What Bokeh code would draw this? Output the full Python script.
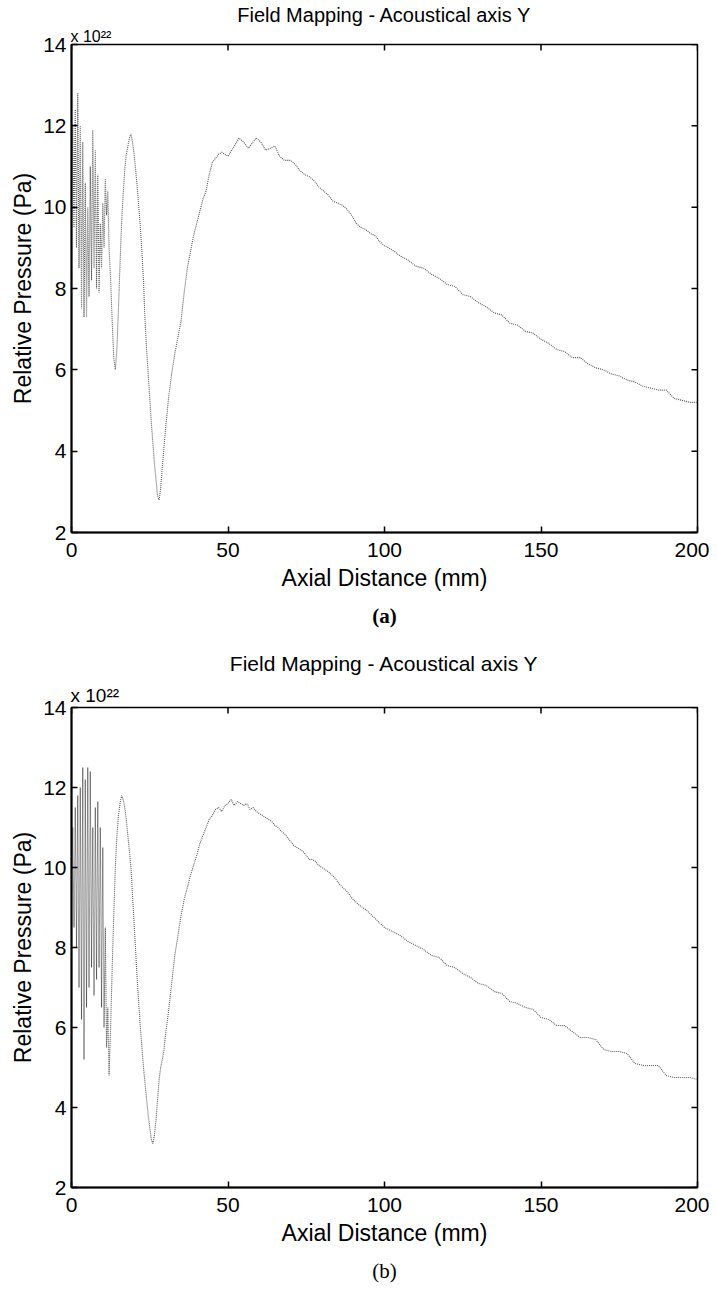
import math
from bokeh.plotting import figure
from bokeh.models import Range1d, Title, FixedTicker
from bokeh.layouts import column
from bokeh.embed import file_html
from bokeh.resources import INLINE

TITLE = "Field Mapping - Acoustical axis Y"
X_LABEL = "Axial Distance (mm)"
Y_LABEL = "Relative Pressure (Pa)"
SCALE_NOTE = "x 10\u00b2\u00b2"
X_TICKS = [0, 50, 100, 150, 200]
Y_TICKS = [2, 4, 6, 8, 10, 12, 14]
X_MIN, X_MAX = 0, 200
Y_MIN, Y_MAX = 2, 14

# ---------------- panel (a) ----------------
a_x = [0, 0.4, 0.8, 1.2, 1.6, 2.0, 2.4, 2.8, 3.2, 3.6, 4.0, 4.4, 4.8, 5.2, 5.6, 6.0,
       6.4, 6.8, 7.2, 7.6, 8.0, 8.4, 8.8, 9.2, 9.6, 10.0, 10.4, 10.8, 11.2, 11.6, 12.0,
       12.5, 13.0, 13.5, 14.0, 14.5, 15.0, 15.5, 16.0, 16.5, 17.0, 17.5, 18.0, 18.5,
       19.0, 19.5, 20.0, 20.5, 21.0, 21.5, 22.0, 22.5, 23.0, 23.5, 24.0, 24.5, 25.0,
       25.5, 26.0, 26.5, 27.0, 27.5, 28.0, 28.5, 29.0,
       30, 31, 32, 33, 34, 35, 36, 37, 38, 39, 40, 41, 42, 43, 44, 45, 46, 47, 48,
       50, 52, 53.5, 55, 56.5, 58, 59, 60.5, 62, 63.5, 65, 66.5, 68, 70, 71.5, 73,
       74.5, 76, 77.5, 79, 80.5, 82, 83.5, 85, 86.5, 88, 89.5, 91, 92.5, 94, 95.5, 97, 98.5,
       100, 102.5, 105, 107.5, 110, 112.5, 115, 117.5, 120, 122.5, 125, 127.5, 130,
       132.5, 135, 137.5, 140, 142.5, 145, 147.5, 150, 152.5, 155, 157.5, 160, 162.5,
       165, 167.5, 170, 172.5, 175, 177.5, 180, 182.5, 185, 187.5, 190, 192.5, 195,
       197.5, 200]
a_y = [9.2, 12.0, 9.5, 12.4, 9.0, 12.8, 8.5, 12.0, 7.5, 11.6, 7.3, 10.6, 7.3, 10.0, 7.8, 11.0,
       8.2, 11.9, 8.5, 11.4, 8.0, 10.8, 7.9, 9.6, 8.5, 10.1, 9.0, 10.7, 9.8, 10.4, 9.0,
       8.2, 7.2, 6.3, 6.0, 6.5, 7.5, 8.6, 9.6, 10.3, 10.9, 11.3, 11.5, 11.7,
       11.8, 11.6, 11.3, 10.9, 10.5, 10.0, 9.5, 8.9, 8.2, 7.2, 6.5, 5.9, 5.3,
       4.7, 4.2, 3.7, 3.3, 2.9, 2.8, 3.1, 3.6,
       4.5, 5.3, 5.9, 6.4, 6.8, 7.2, 7.9, 8.5, 8.9, 9.3, 9.6, 9.9, 10.2, 10.4, 10.8, 11.1, 11.2, 11.3, 11.35,
       11.25, 11.5, 11.7, 11.6, 11.45, 11.6, 11.7, 11.6, 11.4, 11.45, 11.5, 11.25, 11.15, 11.15, 11.05, 10.9,
       10.8, 10.75, 10.65, 10.5, 10.4, 10.3, 10.15, 10.1, 10.05, 9.95, 9.8, 9.6, 9.5, 9.45, 9.35, 9.3, 9.15,
       9.05, 8.95, 8.8, 8.7, 8.55, 8.5, 8.35, 8.25, 8.1, 8.05, 7.85, 7.8, 7.65,
       7.55, 7.4, 7.35, 7.15, 7.1, 6.95, 6.9, 6.75, 6.65, 6.5, 6.45, 6.3, 6.3,
       6.15, 6.05, 6.0, 5.9, 5.85, 5.75, 5.7, 5.6, 5.55, 5.5, 5.5, 5.3, 5.25,
       5.2, 5.2]

# ---------------- panel (b) ----------------
b_x = [0, 0.4, 0.8, 1.2, 1.6, 2.0, 2.4, 2.8, 3.2, 3.6, 4.0, 4.4, 4.8, 5.2, 5.6, 6.0,
       6.4, 6.8, 7.2, 7.6, 8.0, 8.4, 8.8, 9.2, 9.6, 10.0, 10.4, 10.8, 11.2, 11.6, 12.0,
       12.5, 13.0, 13.5, 14.0, 14.5, 15.0, 15.5, 16.0, 16.5, 17.0, 17.5, 18.0, 18.5,
       19.0, 19.5, 20.0, 20.5, 21.0, 21.5, 22.0, 22.5, 23.0, 23.5, 24.0, 24.5, 25.0,
       25.5, 26.0, 26.5, 27.0, 27.5, 28.0, 28.5, 29.0, 29.5, 30.0,
       31, 32, 33, 34, 35, 36, 37, 38, 39, 40, 41, 42, 43, 44, 45, 46, 47,
       48, 49, 50, 51, 52, 53, 54, 55, 56, 57, 58, 59, 60, 61, 62, 63, 64, 65, 66,
       67, 68, 69, 70, 71, 72, 73, 74, 75, 76, 77, 78, 79, 80,
       82, 84, 86, 88, 90, 92, 94, 96, 98,
       100, 102.5, 105, 107.5, 110, 112.5, 115, 117.5, 120, 122.5, 125, 127.5, 130,
       132.5, 135, 137.5, 140, 142.5, 145, 147.5, 150, 152.5, 155, 157.5, 160, 162.5,
       165, 167.5, 170, 172.5, 175, 177.5, 180, 182.5, 185, 187.5, 190, 192.5, 195,
       197.5, 200]
b_y = [9.0, 11.0, 8.5, 11.5, 8.0, 11.8, 7.0, 12.0, 6.2, 12.5, 5.2, 12.2, 6.5, 12.5, 7.0, 12.4,
       7.5, 11.0, 6.8, 11.5, 7.2, 11.65, 7.5, 11.0, 6.5, 10.5, 6.0, 8.5, 5.5, 6.5, 4.8,
       6.0, 7.5, 8.8, 10.0, 10.8, 11.3, 11.6, 11.8, 11.7, 11.5, 11.2, 10.8, 10.4,
       10.0, 9.3, 8.6, 7.9, 7.2, 6.6, 6.0, 5.5, 5.0, 4.6, 4.2, 3.8, 3.5,
       3.2, 3.1, 3.3, 3.7, 4.2, 4.7, 5.0, 5.2, 5.4, 5.8,
       6.4, 7.1, 7.8, 8.3, 8.8, 9.2, 9.5, 9.8, 10.05, 10.3, 10.6, 10.8, 11.0, 11.2, 11.3, 11.45, 11.5,
       11.4, 11.55, 11.6, 11.7, 11.55, 11.65, 11.6, 11.55, 11.6, 11.45, 11.5, 11.4, 11.35, 11.3, 11.25, 11.2, 11.15, 11.05, 11.0,
       10.9, 10.85, 10.75, 10.65, 10.55, 10.5, 10.45, 10.4, 10.3, 10.2, 10.2, 10.15, 10.05, 10.0,
       9.9, 9.75, 9.55, 9.4, 9.2, 9.05, 8.95, 8.8, 8.65,
       8.5, 8.4, 8.3, 8.15, 8.05, 7.95, 7.8, 7.75, 7.55, 7.5, 7.35, 7.25, 7.1,
       7.05, 6.9, 6.85, 6.65, 6.6, 6.5, 6.45, 6.25, 6.2, 6.05, 6.05, 5.9, 5.75,
       5.75, 5.7, 5.45, 5.4, 5.4, 5.35, 5.1, 5.05, 5.05, 5.05, 4.8, 4.75, 4.75,
       4.75, 4.7]

SANS = "Liberation Sans"
SERIF = "Liberation Serif"
HAS_LH = "text_line_height" in Title.properties()


def make_title(text, align, standoff, font, size, style, offset=0):
    kw = dict(text=text, align=align, offset=offset, standoff=standoff,
              text_font=font, text_font_size=size, text_font_style=style,
              text_color="black")
    if HAS_LH:
        kw["text_line_height"] = 1.0
    return Title(**kw)


def make_panel(xs, ys, tag, tag_style, top, frame_h, bottom, left,
               note_size, title_size, note_standoff, title_standoff, tag_standoff):
    p = figure(width=709, height=top + frame_h + bottom,
               x_range=Range1d(X_MIN, X_MAX), y_range=Range1d(Y_MIN, Y_MAX),
               output_backend="svg", toolbar_location=None,
               min_border_left=left, min_border_right=12,
               min_border_top=top, min_border_bottom=bottom)
    p.grid.visible = False
    p.outline_line_color = "black"
    p.outline_line_width = 1.5
    p.background_fill_color = "white"
    p.border_fill_color = "white"

    p.line(xs, ys, line_color="#5a5a5a", line_width=1.1, line_dash="1 1")

    for ax in (p.xaxis[0], p.yaxis[0]):
        ax.axis_line_width = 2
        ax.axis_line_color = "black"
        ax.major_tick_in = 6
        ax.major_tick_out = 0
        ax.major_tick_line_width = 1.5
        ax.minor_tick_line_color = None
        ax.major_label_text_font = SANS
        ax.major_label_text_font_size = "21px"
        ax.major_label_text_color = "black"
        ax.axis_label_text_font = SANS
        ax.axis_label_text_font_size = "23px"
        ax.axis_label_text_font_style = "normal"
        ax.axis_label_text_color = "black"
    p.xaxis[0].ticker = FixedTicker(ticks=X_TICKS)
    p.yaxis[0].ticker = FixedTicker(ticks=Y_TICKS)
    p.xaxis[0].axis_label = X_LABEL
    p.yaxis[0].axis_label = Y_LABEL
    p.xaxis[0].major_label_standoff = 10
    p.xaxis[0].axis_label_standoff = 5
    p.yaxis[0].major_label_standoff = 5
    p.yaxis[0].axis_label_standoff = 4

    # box ticks on the top and right edges (MATLAB "box on"), 6 px inward
    p.ray(x=X_TICKS, y=[Y_MAX] * len(X_TICKS), length=6, length_units="screen",
          angle=-math.pi / 2, line_color="black", line_width=1.5)
    p.ray(x=[X_MAX] * len(Y_TICKS), y=Y_TICKS, length=6, length_units="screen",
          angle=math.pi, line_color="black", line_width=1.5)

    # scale note (nearest the frame) and main title above it
    p.add_layout(make_title(SCALE_NOTE, "left", note_standoff, SANS, note_size, "normal",
                            offset=-1), "above")
    p.add_layout(make_title(TITLE, "center", title_standoff, SANS, title_size, "normal"), "above")
    # panel tag below the axis title
    p.add_layout(make_title(tag, "center", tag_standoff, SERIF, "21px", tag_style), "below")
    return p


pa = make_panel(a_x, a_y, "(a)", "bold", top=44, frame_h=488, bottom=108, left=71,
                note_size="16px", title_size="20px",
                note_standoff=0, title_standoff=0, tag_standoff=16)
pb = make_panel(b_x, b_y, "(b)", "normal", top=67, frame_h=486, bottom=98, left=69,
                note_size="19px", title_size="21px",
                note_standoff=4, title_standoff=12, tag_standoff=17)

layout = column(pa, pb, spacing=0)
open("out.html", "w").write(file_html(layout, INLINE))
